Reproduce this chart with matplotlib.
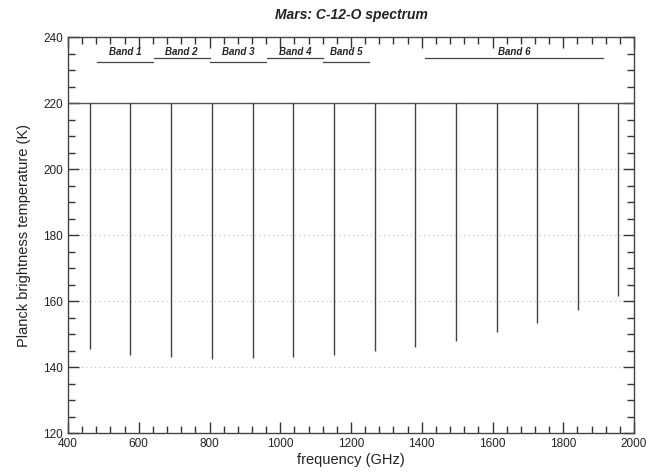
import matplotlib
matplotlib.use("Agg")
import matplotlib.pyplot as plt
from matplotlib.ticker import MultipleLocator

# CO rotational lines (GHz) and the depth of each line (K)
frecuencias = [461.0, 576.3, 691.5, 806.7, 921.8, 1036.9, 1152.0,
               1267.0, 1382.0, 1496.9, 1611.8, 1726.6, 1841.3, 1956.0]
minimos = [145.5, 143.6, 143.0, 142.5, 142.6, 143.1, 143.5,
           144.8, 146.1, 147.9, 150.5, 153.4, 157.3, 161.6]
continuo = 220.0

# Bandas del instrumento
bandas = ["Band 1", "Band 2", "Band 3", "Band 4", "Band 5", "Band 6"]
banda_ini = [481, 642, 801, 962, 1121, 1410]
banda_fin = [641, 801, 961, 1121, 1250, 1911]
banda_nivel = [232.5, 233.7, 232.5, 233.7, 232.5, 233.7]
texto_nivel = 235.5

plt.rcParams["font.family"] = ["Liberation Sans", "DejaVu Sans"]

fig = plt.figure(figsize=(6.52, 4.72), dpi=100)
ax = fig.add_axes([0.1043, 0.0826, 0.8681, 0.839])

# espectro: continuo plano con lineas de absorcion
ax.plot([400, 2000], [continuo, continuo], color="#555555", lw=1.0)
ax.vlines(frecuencias, minimos, continuo, color="#444444", lw=1.0)

for nombre, x0, x1, y in zip(bandas, banda_ini, banda_fin, banda_nivel):
    ax.plot([x0, x1], [y, y], color="#444444", lw=0.9)
    ax.text((x0 + x1) / 2, texto_nivel, nombre, ha="center", va="center",
            fontsize=7, fontweight="bold", fontstyle="italic", color="#222222")

for yg in [140, 160, 180, 200]:
    ax.axhline(yg, color="#bbbbbb", lw=0.8, ls=(0, (1, 3)), zorder=0)

ax.set_xlim(400, 2000)
ax.set_ylim(120, 240)
ax.xaxis.set_major_locator(MultipleLocator(200))
ax.xaxis.set_minor_locator(MultipleLocator(40))
ax.yaxis.set_major_locator(MultipleLocator(20))
ax.yaxis.set_minor_locator(MultipleLocator(5))
ax.tick_params(which="both", direction="in", top=True, right=True,
               colors="#333333", labelcolor="#222222", labelsize=8.5)
ax.tick_params(which="major", length=8, width=1)
ax.tick_params(which="minor", length=5, width=1)
for s in ax.spines.values():
    s.set_color("#444444")
    s.set_linewidth(1.0)

ax.set_xlabel("frequency (GHz)", fontsize=10.5, color="#222222", labelpad=2)
ax.set_ylabel("Planck brightness temperature (K)", fontsize=10.5,
              color="#222222", labelpad=9)
ax.set_title("Mars: C-12-O spectrum", fontsize=10, fontweight="bold",
             fontstyle="italic", color="#222222", pad=13)

fig.savefig("out.png", dpi=100)
